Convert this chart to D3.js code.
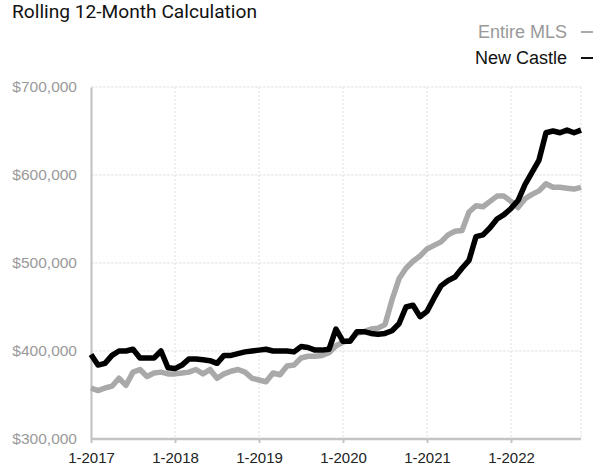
<!DOCTYPE html>
<html>
<head>
<meta charset="utf-8">
<script src="https://cdn.jsdelivr.net/npm/d3@7"></script>
<style>
  html, body { margin: 0; padding: 0; background: #fff; }
  svg { display: block; }
</style>
</head>
<body>
<svg id="chart" width="610" height="475"></svg>
<script>
// ---- Data (monthly, Jan 2017 .. Nov 2022) ----
const startYear = 2017;
const monthCount = 71;
const entireMLS = [
  358000, 355000, 358000, 360000, 369000, 361000, 376000, 379000, 371000, 375000, 376000, 374000,
  374000, 375000, 376000, 379000, 374000, 379000, 369000, 374000, 377000, 379000, 376000, 369000,
  367000, 365000, 375000, 373000, 383000, 384000, 392000, 394000, 394000, 395000, 398000, 406000,
  410000, 412000, 420000, 422000, 425000, 426000, 430000, 458000, 482000, 494000, 502000, 508000,
  516000, 520000, 524000, 532000, 536000, 537000, 558000, 565000, 564000, 570000, 576000, 576000,
  570000, 563000, 573000, 578000, 582000, 590000, 586000, 586000, 585000, 584000, 586000
];
const newCastle = [
  396000, 384000, 386000, 395000, 400000, 400000, 402000, 392000, 392000, 392000, 400000, 381000,
  380000, 384000, 391000, 391000, 390000, 389000, 386000, 395000, 395000, 397000, 399000, 400000,
  401000, 402000, 400000, 400000, 400000, 399000, 405000, 404000, 401000, 401000, 402000, 425000,
  411000, 411000, 422000, 422000, 420000, 419000, 420000, 423000, 431000, 450000, 452000, 439000,
  445000, 460000, 474000, 480000, 484000, 494000, 503000, 530000, 532000, 540000, 550000, 555000,
  562000, 571000, 589000, 603000, 617000, 648000, 650000, 648000, 651000, 648000, 651000
];
const yTicks = [300000, 400000, 500000, 600000, 700000];
const xTickLabels = ["1-2017", "1-2018", "1-2019", "1-2020", "1-2021", "1-2022"];
const seriesNames = ["Entire MLS", "New Castle"];
const seriesColors = ["#a9a9a9", "#000000"];

// ---- Layout ----
const svg = d3.select("#chart");
const pLeft = 91, pRight = 581, pTop = 87, pBottom = 439;

const x = d3.scaleLinear().domain([0, monthCount - 1]).range([pLeft, pRight]);
const y = d3.scaleLinear().domain([300000, 700000]).range([pBottom, pTop]);
const yearIdx = xTickLabels.map((d, i) => i * 12);

// Title
svg.append("text")
  .attr("x", 12).attr("y", 18)
  .attr("font-family", "'Liberation Sans Narrow', 'Roboto', 'Liberation Sans', sans-serif")
  .attr("font-size", 19)
  .attr("fill", "#111")
  .attr("textLength", 245).attr("lengthAdjust", "spacingAndGlyphs")
  .text("Rolling 12-Month Calculation");

// Legend
const legend = svg.append("g");
seriesNames.forEach((name, i) => {
  const ly = 38 + i * 26;
  legend.append("text")
    .attr("x", 567).attr("y", ly)
    .attr("text-anchor", "end")
    .attr("font-family", "'Liberation Sans', Arial, sans-serif")
    .attr("font-size", 18)
    .attr("fill", i === 0 ? "#999" : "#111")
    .text(name);
  legend.append("line")
    .attr("x1", 581).attr("x2", 593)
    .attr("y1", ly - 6).attr("y2", ly - 6)
    .attr("stroke", i === 0 ? "#aaa" : "#111")
    .attr("stroke-width", 2);
});

// Gridlines (horizontal)
svg.append("g").selectAll("line").data(yTicks.slice(1)).join("line")
  .attr("x1", pLeft).attr("x2", pRight)
  .attr("y1", d => y(d)).attr("y2", d => y(d))
  .attr("stroke", "#e4e4e4").attr("stroke-width", 1.2)
  .attr("stroke-dasharray", "3,1");

// Gridlines (vertical)
svg.append("g").selectAll("line").data(yearIdx.slice(1).concat([monthCount - 1])).join("line")
  .attr("x1", d => x(d)).attr("x2", d => x(d))
  .attr("y1", pTop).attr("y2", pBottom)
  .attr("stroke", "#e4e4e4").attr("stroke-width", 1.2)
  .attr("stroke-dasharray", "2,2");

// Y axis
const yAxis = svg.append("g")
  .attr("transform", `translate(${pLeft},0)`)
  .call(d3.axisLeft(y).tickValues(yTicks).tickSize(0).tickPadding(14)
        .tickFormat(d => "$" + d3.format(",")(d)));
yAxis.select(".domain").attr("stroke", "#c4c4c4").attr("stroke-width", 2.2);
yAxis.selectAll("text")
  .attr("font-family", "'Liberation Sans', Arial, sans-serif")
  .attr("font-size", 15.5)
  .attr("fill", "#999");

// X axis
const xAxis = svg.append("g")
  .attr("transform", `translate(0,${pBottom})`)
  .call(d3.axisBottom(x).tickValues(yearIdx).tickSize(4).tickPadding(9)
        .tickFormat((d, i) => xTickLabels[i]));
xAxis.select(".domain").attr("stroke", "#c4c4c4").attr("stroke-width", 2.5)
  .attr("d", `M${pLeft},0H${pRight}`);
xAxis.selectAll(".tick line").attr("stroke", "#c4c4c4").attr("stroke-width", 2);
xAxis.selectAll("text")
  .attr("font-family", "'Liberation Sans', Arial, sans-serif")
  .attr("font-size", 15)
  .attr("fill", "#222");

// Lines
const line = d3.line().x((d, i) => x(i)).y(d => y(d));
[entireMLS, newCastle].forEach((series, k) => {
  svg.append("path")
    .datum(series)
    .attr("d", line)
    .attr("fill", "none")
    .attr("stroke", seriesColors[k])
    .attr("stroke-width", 5.5)
    .attr("stroke-linejoin", "round")
    .attr("stroke-linecap", "butt");
});
</script>
</body>
</html>
